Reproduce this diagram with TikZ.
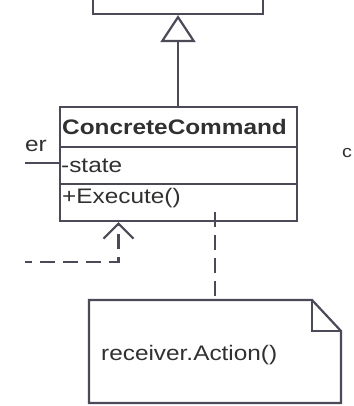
\documentclass[tikz,border=0pt]{standalone}
\usepackage{fontspec}
\newfontfamily\umlfont[FakeStretch=1.16]{Liberation Sans}
\usetikzlibrary{arrows.meta}
\definecolor{linec}{HTML}{4A4A58}
\definecolor{textc}{HTML}{303030}
\tikzset{
  umlline/.style={draw=linec, line width=2.2pt},
  dashline/.style={draw=linec, line width=2.2pt, dash pattern=on 15pt off 8pt},
  umltext/.style={inner sep=0pt, anchor=base west, text=textc, font=\umlfont\fontsize{21}{24}\selectfont},
}
\begin{document}
\begin{tikzpicture}[x=1pt,y=-1pt]
\useasboundingbox (0,0) rectangle (353,406);
\clip (0,0) rectangle (353,406);
% top (parent) class, cut off
\node[umlline, minimum width=170pt, minimum height=40pt, inner sep=0pt] (parent) at (178,-6) {};
% ConcreteCommand class
\node[umlline, minimum width=237pt, minimum height=114pt, inner sep=0pt] (cc) at (178.5,164) {};
\draw[umlline] (60,147) -- (297,147);
\draw[umlline] (60,184) -- (297,184);
\node[umltext, font=\umlfont\bfseries\fontsize{21}{24}\selectfont] (title) at (62,135) {ConcreteCommand};
\node[umltext] (state) at (61,172) {-state};
\node[umltext] (exec) at (62,203) {+Execute()};
% generalization
\coordinate (gen) at (178,107);
\draw[umlline, -{Triangle[open, length=27pt, width=35pt, line width=2.2pt]}] (gen) -- (parent.south -| gen);
% association from receiver
\node[umltext] (er) at (25,151) {er};
\coordinate (assocL) at (25,163);
\draw[umlline] (assocL) -- (assocL -| cc.west);
% client label
\node[umltext, font=\umlfont\fontsize{17}{19}\selectfont] (client) at (342,157.5) {c};
% dependency arrow
\coordinate (depL) at (25,262);
\coordinate (depC) at (118.5,262);
\draw[dashline, dash phase=8pt, -{Straight Barb[length=15pt, width=30pt, line width=2.2pt]}] (depL) -- (depC) -- (depC |- cc.south);
% note
\node[inner sep=0pt, minimum width=252pt, minimum height=103pt] (note) at (215,351.5) {};
\draw[umlline, line join=miter] (89,300) -- (312,300) -- (341,331) -- (341,403) -- (89,403) -- cycle;
\draw[umlline] (312,300) -- (312,331) -- (341,331);
\node[umltext] (action) at (101,360) {receiver.Action()};
\coordinate (noteS) at (215,212);
\draw[dashline] (noteS) -- (noteS |- note.north);
\end{tikzpicture}
\end{document}
